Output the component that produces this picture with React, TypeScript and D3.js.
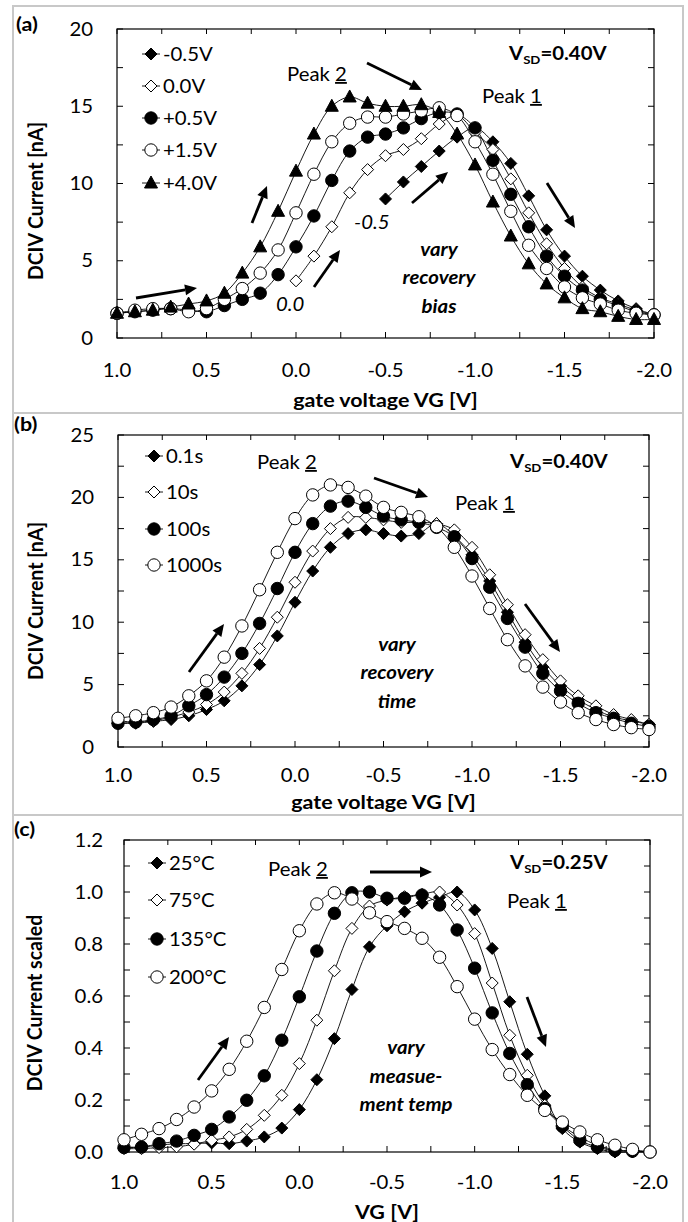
import React from 'react';
import * as d3 from 'd3';

// gate voltage grid shared by all three panels
const VG = [1.0, 0.9, 0.8, 0.7, 0.6, 0.5, 0.4, 0.3, 0.2, 0.1, 0.0, -0.1, -0.2, -0.3, -0.4, -0.5,
  -0.6, -0.7, -0.8, -0.9, -1.0, -1.1, -1.2, -1.3, -1.4, -1.5, -1.6, -1.7, -1.8, -1.9, -2.0];
const X_TICKS = [1.0, 0.5, 0.0, -0.5, -1.0, -1.5, -2.0];
const X_TICK_LABELS = ['1.0', '0.5', '0.0', '-0.5', '-1.0', '-1.5', '-2.0'];
const X_MINOR = [1.0, 0.75, 0.5, 0.25, 0.0, -0.25, -0.5, -0.75, -1.0, -1.25, -1.5, -1.75, -2.0];

// (a) recovery bias
const BIAS_LABELS = ['-0.5V', '0.0V', '+0.5V', '+1.5V', '+4.0V'];
const biasM05 = [null, null, null, null, null, null, null, null, null, null, null, null, null, null, null,
  9.0, 10.1, 11.1, 12.1, 13.0, 13.6, 12.7, 11.3, 9.2, 7.0, 5.3, 4.0, 3.1, 2.4, 1.9, 1.5];
const bias00 = [null, null, null, null, null, null, null, null, null, null,
  3.7, 5.3, 7.2, 9.4, 10.9, 11.8, 12.2, 12.9, 13.85, 14.4, 13.3, 12.2, 10.3, 8.1, 6.1, 4.5, 3.3, 2.6, 2.2, 1.8, 1.5];
const bias05 = [1.6, 1.7, 1.8, 1.9, 1.8, 1.7, 2.1, 2.5, 2.9, 4.1, 5.9, 7.9, 10.2, 12.1, 13.0, 13.2,
  13.6, 14.2, 14.6, 14.5, 13.6, 11.5, 9.3, 7.2, 5.3, 4.0, 3.1, 2.5, 2.1, 1.7, 1.5];
const bias15 = [1.6, 1.8, 1.9, 1.9, 1.7, 1.9, 2.5, 3.2, 4.2, 5.7, 8.1, 10.6, 12.7, 13.9, 14.3, 14.3,
  14.5, 14.7, 14.9, 14.4, 12.7, 10.6, 8.2, 6.0, 4.5, 3.3, 2.6, 2.2, 1.8, 1.6, 1.5];
const bias40 = [1.6, 1.7, 1.8, 2.0, 2.2, 2.4, 2.9, 4.2, 5.9, 8.2, 10.8, 13.2, 15.0, 15.6, 15.2, 15.0,
  15.0, 15.1, 14.6, 13.2, 11.2, 8.8, 6.6, 4.8, 3.5, 2.6, 1.9, 1.7, 1.4, 1.2, 1.2];
const A_Y_TICKS = [0, 5, 10, 15, 20];
const A_Y_MINOR = [0, 2.5, 5, 7.5, 10, 12.5, 15, 17.5, 20];

// (b) recovery time
const TIME_LABELS = ['0.1s', '10s', '100s', '1000s'];
const t01 = [1.9, 1.9, 2.05, 2.2, 2.5, 3.0, 3.7, 4.9, 6.6, 8.9, 11.6, 14.1, 16.0, 17.1, 17.4, 17.1,
  16.9, 17.1, 17.9, 16.9, 15.4, 13.3, 10.8, 8.4, 6.4, 4.9, 3.8, 3.0, 2.4, 2.1, 1.8];
const t10 = [2.1, 2.0, 2.1, 2.4, 2.8, 3.4, 4.4, 5.9, 7.9, 10.4, 13.2, 15.7, 17.5, 18.4, 18.4, 18.2,
  18.0, 18.0, 17.9, 17.4, 16.0, 13.8, 11.4, 9.0, 7.0, 5.3, 4.1, 3.3, 2.6, 2.2, 1.8];
const t100 = [1.9, 2.0, 2.2, 2.5, 3.3, 4.2, 5.6, 7.5, 9.9, 12.7, 15.6, 17.9, 19.3, 19.7, 19.2, 18.5,
  18.2, 18.0, 17.6, 16.85, 15.1, 12.8, 10.3, 8.0, 5.9, 4.5, 3.5, 2.75, 2.3, 1.9, 1.65];
const t1000 = [2.3, 2.5, 2.75, 3.2, 4.1, 5.3, 7.2, 9.7, 12.6, 15.6, 18.3, 20.2, 21.0, 20.8, 20.1, 19.2,
  18.8, 18.45, 17.65, 16.0, 13.7, 11.1, 8.6, 6.5, 4.8, 3.6, 2.75, 2.2, 1.8, 1.55, 1.4];
const B_Y_TICKS = [0, 5, 10, 15, 20, 25];
const B_Y_MINOR = [0, 2.5, 5, 7.5, 10, 12.5, 15, 17.5, 20, 22.5, 25];

// (c) measurement temperature, scaled
const TEMP_LABELS = ['25°C', '75°C', '135°C', '200°C'];
const c25 = [0.019, 0.019, 0.026, 0.032, 0.032, 0.035, 0.032, 0.042, 0.058, 0.092, 0.163, 0.278, 0.436, 0.625, 0.789, 0.87,
  0.924, 0.957, 0.98, 1.0, 0.931, 0.783, 0.578, 0.376, 0.216, 0.09, 0.038, 0.013, 0.0, 0.0, 0.0];
const c75 = [0.013, 0.013, 0.017, 0.02, 0.03, 0.045, 0.058, 0.087, 0.141, 0.218, 0.34, 0.507, 0.697, 0.86, 0.946, 0.969,
  0.982, 0.991, 1.0, 0.95, 0.84, 0.65, 0.449, 0.295, 0.18, 0.103, 0.058, 0.026, 0.009, 0.004, 0.0];
const c135 = [0.017, 0.019, 0.032, 0.042, 0.064, 0.087, 0.135, 0.199, 0.293, 0.43, 0.597, 0.773, 0.918, 0.997, 1.0, 0.976,
  0.976, 0.988, 0.95, 0.854, 0.707, 0.535, 0.379, 0.259, 0.167, 0.099, 0.045, 0.019, 0.006, 0.003, 0.0];
const c200 = [0.047, 0.068, 0.09, 0.125, 0.173, 0.235, 0.318, 0.426, 0.556, 0.702, 0.851, 0.954, 0.997, 0.973, 0.92, 0.886,
  0.86, 0.822, 0.749, 0.636, 0.511, 0.394, 0.298, 0.218, 0.16, 0.115, 0.077, 0.047, 0.026, 0.01, 0.0];
const C_Y_TICKS = [0, 0.2, 0.4, 0.6, 0.8, 1.0, 1.2];
const C_Y_MINOR = [0, 0.1, 0.2, 0.3, 0.4, 0.5, 0.6, 0.7, 0.8, 0.9, 1.0, 1.1, 1.2];

const FONT = 'Lato, "Open Sans", sans-serif';
const SX = 1.1; // the original figure is stretched a bit horizontally

// horizontal text, widened like the source picture
function T({ x, y, children, ...rest }) {
  return <text transform={`translate(${x},${y}) scale(${SX},1)`} {...rest}>{children}</text>;
}

function Marker({ kind, x, y }) {
  const open = kind === 'od' || kind === 'oc';
  const fill = open ? '#fff' : '#000';
  if (kind === 'fd' || kind === 'od') {
    const s = 6;
    return <path d={`M${x},${y - s}L${x + s},${y}L${x},${y + s}L${x - s},${y}Z`} fill={fill} stroke="#000" strokeWidth={1} />;
  }
  if (kind === 'fc' || kind === 'oc') {
    return <circle cx={x} cy={y} r={6.2} fill={fill} stroke="#000" strokeWidth={1} />;
  }
  return <path d={`M${x},${y - 7}L${x + 6.5},${y + 5}L${x - 6.5},${y + 5}Z`} fill="#000" stroke="#000" strokeWidth={1} />;
}

function Arrow({ a }) {
  const [x1, y1, x2, y2] = a;
  const ang = Math.atan2(y2 - y1, x2 - x1);
  const L = 12, W = 5.5;
  const bx = x2 - L * Math.cos(ang), by = y2 - L * Math.sin(ang);
  const px = -Math.sin(ang) * W, py = Math.cos(ang) * W;
  return (
    <g>
      <line x1={x1} y1={y1} x2={bx} y2={by} stroke="#000" strokeWidth={2.8} />
      <path d={`M${x2},${y2}L${bx + px},${by + py}L${bx - px},${by - py}Z`} fill="#000" />
    </g>
  );
}

function Panel({ p }) {
  const x = d3.scaleLinear().domain([1.0, -2.0]).range([p.left, p.right]);
  const y = d3.scaleLinear().domain(p.yDomain).range([p.bottom, p.top]);
  const line = d3.line()
    .defined((d) => d[1] != null)
    .x((d) => x(d[0]))
    .y((d) => y(d[1]))
    .curve(d3.curveCatmullRom.alpha(0.5));

  return (
    <g fontFamily={FONT}>
      <T x={p.tagX} y={p.tagY} fontSize={19.5} fontWeight="bold">{p.tag}</T>

      {/* tick marks, mirrored on all four sides */}
      {X_MINOR.map((v) => (
        <g key={'xt' + v}>
          <line x1={x(v)} x2={x(v)} y1={p.bottom} y2={p.bottom - 6} stroke="#000" />
          <line x1={x(v)} x2={x(v)} y1={p.top} y2={p.top + 5} stroke="#000" />
        </g>
      ))}
      {p.yMinor.map((v) => (
        <g key={'yt' + v}>
          <line x1={p.left} x2={p.left + 6} y1={y(v)} y2={y(v)} stroke="#000" />
          <line x1={p.right} x2={p.right - 6} y1={y(v)} y2={y(v)} stroke="#000" />
        </g>
      ))}
      <rect x={p.left} y={p.top} width={p.right - p.left} height={p.bottom - p.top} fill="none" stroke="#000" strokeWidth={1.2} />

      {X_TICKS.map((v, i) => (
        <T key={'xl' + v} x={x(v)} y={p.xLabelY} fontSize={18.5} textAnchor="middle">{X_TICK_LABELS[i]}</T>
      ))}
      {p.yTicks.map((v, i) => (
        <T key={'yl' + v} x={p.yLabelX} y={y(v) + 6.5} fontSize={18.5} textAnchor="end">{p.yTickLabels[i]}</T>
      ))}
      <T x={(p.left + p.right) / 2} y={p.xTitleY} fontSize={19.5} fontWeight="bold" textAnchor="middle">{p.xTitle}</T>
      <text transform={`translate(${p.yTitleX},${p.yTitleCY}) rotate(-90) scale(1,${SX})`} fontSize={19.5} fontWeight="bold" textAnchor="middle">{p.yTitle}</text>

      {/* series lines then markers */}
      {p.series.map((s, si) => (
        <path key={'l' + si} d={line(VG.map((v, i) => [v, s.values[i]]))} fill="none" stroke="#000" strokeWidth={0.9} />
      ))}
      {p.series.map((s, si) => (
        <g key={'m' + si}>
          {VG.map((v, i) => (s.values[i] == null ? null : <Marker key={i} kind={s.marker} x={x(v)} y={y(s.values[i])} />))}
        </g>
      ))}

      {/* legend */}
      {p.series.map((s, si) => (
        <g key={'lg' + si}>
          <line x1={p.legendX - 9} x2={p.legendX + 9} y1={p.legendY[si]} y2={p.legendY[si]} stroke="#000" strokeWidth={0.9} />
          <Marker kind={s.marker} x={p.legendX} y={p.legendY[si]} />
          <T x={p.legendX + 12} y={p.legendY[si] + 6.5} fontSize={18.5}>{s.label}</T>
        </g>
      ))}

      <T x={p.vsd[0]} y={p.vsd[1]} fontSize={18.5} fontWeight="bold">
        V<tspan fontSize={12} dy={4}>SD</tspan><tspan dy={-4}>{'=' + p.vsdValue}</tspan>
      </T>
      <T x={p.peak2[0]} y={p.peak2[1]} fontSize={18.5}>
        Peak <tspan textDecoration="underline" style={{ textDecoration: 'underline' }}>2</tspan>
      </T>
      <T x={p.peak1[0]} y={p.peak1[1]} fontSize={18.5}>
        Peak <tspan textDecoration="underline" style={{ textDecoration: 'underline' }}>1</tspan>
      </T>
      {p.notes.map((n, i) => (
        <T key={'n' + i} x={n.x} y={n.y} fontSize={18.5} fontStyle="italic" fontWeight={n.bold ? 'bold' : 'normal'} textAnchor={n.anchor || 'start'}>{n.t}</T>
      ))}
      {p.arrows.map((a, i) => <Arrow key={'a' + i} a={a} />)}
    </g>
  );
}

const panels = [
  {
    tag: '(a)', tagX: 16, tagY: 31,
    left: 117, right: 654, top: 29, bottom: 338,
    yDomain: [0, 20], yTicks: A_Y_TICKS, yTickLabels: A_Y_TICKS.map(String), yMinor: A_Y_MINOR,
    yLabelX: 93, xLabelY: 377, xTitleY: 407, xTitle: 'gate voltage VG [V]',
    yTitleX: 43, yTitleCY: 201, yTitle: 'DCIV Current [nA]',
    series: [
      { label: BIAS_LABELS[0], values: biasM05, marker: 'fd' },
      { label: BIAS_LABELS[1], values: bias00, marker: 'od' },
      { label: BIAS_LABELS[2], values: bias05, marker: 'fc' },
      { label: BIAS_LABELS[3], values: bias15, marker: 'oc' },
      { label: BIAS_LABELS[4], values: bias40, marker: 'ft' },
    ],
    legendX: 151, legendY: [54, 86, 118, 150, 183],
    vsd: [509, 60], vsdValue: '0.40V',
    peak2: [287, 81], peak1: [482, 103],
    notes: [
      { t: '0.0', x: 276, y: 311 },
      { t: '-0.5', x: 354, y: 229 },
      { t: 'vary', x: 439, y: 256, bold: true, anchor: 'middle' },
      { t: 'recovery', x: 439, y: 284, bold: true, anchor: 'middle' },
      { t: 'bias', x: 439, y: 313, bold: true, anchor: 'middle' },
    ],
    arrows: [
      [136, 298, 197, 288],
      [252, 223, 267, 186],
      [314, 287, 340, 250],
      [412, 203, 448, 172],
      [367, 63, 422, 90],
      [547, 183, 575, 228],
    ],
  },
  {
    tag: '(b)', tagX: 14, tagY: 431,
    left: 118, right: 649, top: 435, bottom: 747,
    yDomain: [0, 25], yTicks: B_Y_TICKS, yTickLabels: B_Y_TICKS.map(String), yMinor: B_Y_MINOR,
    yLabelX: 94, xLabelY: 782, xTitleY: 809, xTitle: 'gate voltage VG [V]',
    yTitleX: 43, yTitleCY: 601, yTitle: 'DCIV Current [nA]',
    series: [
      { label: TIME_LABELS[0], values: t01, marker: 'fd' },
      { label: TIME_LABELS[1], values: t10, marker: 'od' },
      { label: TIME_LABELS[2], values: t100, marker: 'fc' },
      { label: TIME_LABELS[3], values: t1000, marker: 'oc' },
    ],
    legendX: 154, legendY: [456, 492, 529, 565],
    vsd: [510, 468], vsdValue: '0.40V',
    peak2: [257, 469], peak1: [455, 510],
    notes: [
      { t: 'vary', x: 397, y: 651, bold: true, anchor: 'middle' },
      { t: 'recovery', x: 397, y: 679, bold: true, anchor: 'middle' },
      { t: 'time', x: 397, y: 708, bold: true, anchor: 'middle' },
    ],
    arrows: [
      [189, 672, 224, 624],
      [374, 478, 428, 497],
      [525, 604, 560, 652],
    ],
  },
  {
    tag: '(c)', tagX: 14, tagY: 836,
    left: 124, right: 650, top: 840, bottom: 1152,
    yDomain: [0, 1.2], yTicks: C_Y_TICKS, yTickLabels: C_Y_TICKS.map((v) => v.toFixed(1)), yMinor: C_Y_MINOR,
    yLabelX: 103, xLabelY: 1189, xTitleY: 1219, xTitle: 'VG [V]',
    yTitleX: 42, yTitleCY: 1003, yTitle: 'DCIV Current scaled',
    series: [
      { label: TEMP_LABELS[0], values: c25, marker: 'fd' },
      { label: TEMP_LABELS[1], values: c75, marker: 'od' },
      { label: TEMP_LABELS[2], values: c135, marker: 'fc' },
      { label: TEMP_LABELS[3], values: c200, marker: 'oc' },
    ],
    legendX: 157, legendY: [863, 900, 939, 977],
    vsd: [510, 869], vsdValue: '0.25V',
    peak2: [268, 876], peak1: [507, 908],
    notes: [
      { t: 'vary', x: 406, y: 1054, bold: true, anchor: 'middle' },
      { t: 'measue-', x: 406, y: 1083, bold: true, anchor: 'middle' },
      { t: 'ment temp', x: 406, y: 1111, bold: true, anchor: 'middle' },
    ],
    arrows: [
      [198, 1080, 229, 1037],
      [370, 872, 432, 872],
      [527, 997, 546, 1047],
    ],
  },
];

export default function App() {
  return (
    <svg width={688} height={1222} style={{ position: 'absolute', left: 0, top: 0, background: '#fff' }}>
      <rect x={0} y={0} width={688} height={1222} fill="#fff" />
      <rect x={13} y={6} width={670} height={1222} fill="none" stroke="#c8c8c8" strokeWidth={2} />
      <line x1={13} x2={683} y1={413} y2={413} stroke="#c8c8c8" strokeWidth={2} />
      <line x1={13} x2={683} y1={815} y2={815} stroke="#c8c8c8" strokeWidth={2} />
      {panels.map((p) => <Panel key={p.tag} p={p} />)}
    </svg>
  );
}
